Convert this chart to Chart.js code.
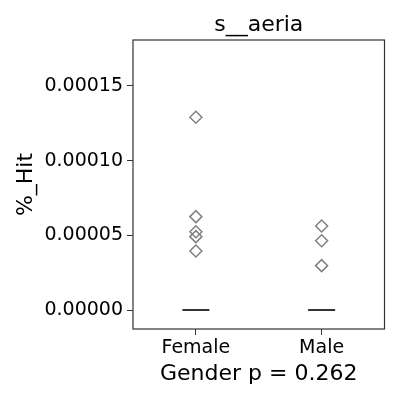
<!DOCTYPE html>
<html>
<head>
<meta charset="utf-8">
<script src="https://cdn.jsdelivr.net/npm/chart.js@4"></script>
<style>
  html, body { margin: 0; padding: 0; background: #fff; }
  #wrap { width: 400px; height: 400px; }
</style>
</head>
<body>
<div id="wrap"><canvas id="chart" width="400" height="400"></canvas></div>
<script>
// categories and values
const categories = ['Female', 'Male'];
const femaleHits = [0.000129, 0.0000625, 0.0000524, 0.0000491, 0.0000395];
const maleHits = [0.0000562, 0.0000464, 0.0000297];
const medians = [0, 0];
const yTicks = [0, 0.00005, 0.0001, 0.00015];

const FONT = 'DejaVu Sans';

const toPoints = (vals, idx) => vals.map(v => ({ x: idx, y: v }));

// box around the plot area
const frame = {
    id: 'frame',
    afterDatasetsDraw(chart) {
        const a = chart.chartArea;
        const ctx = chart.ctx;
        ctx.save();
        ctx.strokeStyle = '#333';
        ctx.lineWidth = 1.2;
        ctx.strokeRect(a.left, a.top, a.right - a.left, a.bottom - a.top);
        ctx.restore();
    }
};

new Chart(document.getElementById('chart'), {
    type: 'scatter',
    data: {
        datasets: [
            {
                data: toPoints(femaleHits, 0).concat(toPoints(maleHits, 1)),
                pointStyle: 'rectRot',
                radius: 6,
                borderColor: '#808080',
                backgroundColor: 'rgba(0,0,0,0)',
                borderWidth: 1.5
            },
            {
                data: medians.map((v, i) => ({ x: i, y: v })),
                pointStyle: 'line',
                radius: 13.5,
                borderColor: '#333',
                borderWidth: 2
            }
        ]
    },
    options: {
        responsive: false,
        animation: false,
        layout: { padding: { left: 0, right: 15, top: 0, bottom: 0 } },
        plugins: {
            legend: { display: false },
            tooltip: { enabled: false }
        },
        scales: {
            x: {
                type: 'linear',
                min: -0.5,
                max: 1.5,
                grid: { display: true, drawOnChartArea: false, tickLength: 6, color: '#333' },
                border: { display: false },
                ticks: {
                    includeBounds: false,
                    color: '#000',
                    font: { family: FONT, size: 19 },
                    padding: 2,
                    maxRotation: 0,
                    callback: v => categories[v] ?? ''
                },
                afterBuildTicks: s => { s.ticks = categories.map((c, i) => ({ value: i })); },
                afterFit: s => { s.height = 71; },
                title: {
                    display: true,
                    text: 'Gender p = 0.262',
                    color: '#000',
                    font: { family: FONT, size: 22 },
                    padding: { top: 0, bottom: 13 }
                }
            },
            x2: {
                type: 'linear',
                position: 'top',
                min: -0.5,
                max: 1.5,
                grid: { display: false },
                border: { display: false },
                ticks: { display: false },
                afterFit: s => { s.height = 40; },
                title: {
                    display: true,
                    text: 's__aeria',
                    color: '#000',
                    font: { family: FONT, size: 22 },
                    padding: { top: 12, bottom: 0 }
                }
            },
            y: {
                min: -0.0000127,
                max: 0.0001807,
                grid: { display: true, drawOnChartArea: false, tickLength: 6, color: '#333' },
                border: { display: false },
                ticks: {
                    includeBounds: false,
                    color: '#000',
                    font: { family: FONT, size: 19 },
                    padding: 4,
                    callback: v => v.toFixed(5)
                },
                afterBuildTicks: s => { s.ticks = yTicks.map(v => ({ value: v })); },
                afterFit: s => { s.width = 133; },
                title: {
                    display: true,
                    text: '%_Hit',
                    color: '#000',
                    font: { family: FONT, size: 22 },
                    padding: { top: 13, bottom: 0 }
                }
            }
        }
    },
    plugins: [frame]
});
</script>
</body>
</html>
